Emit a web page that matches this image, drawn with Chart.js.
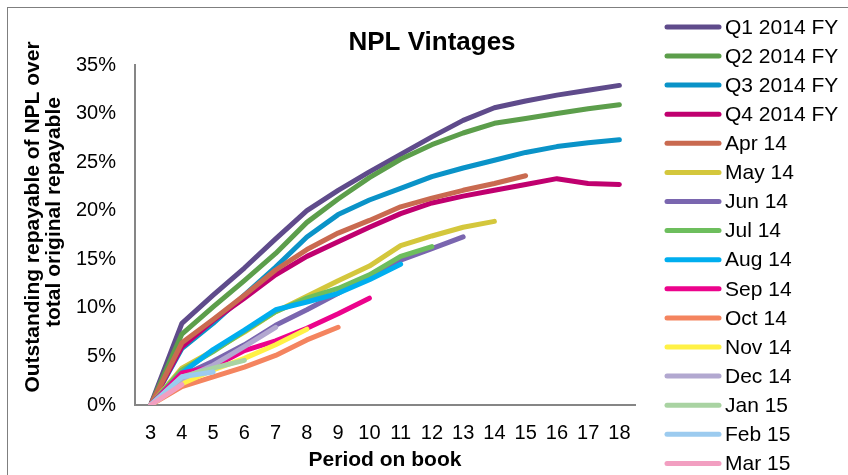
<!DOCTYPE html>
<html><head><meta charset="utf-8">
<script src="https://cdn.jsdelivr.net/npm/chart.js@4.4.1/dist/chart.umd.min.js"></script>
<style>
html,body{margin:0;padding:0;background:#fff;}
#wrap{position:relative;width:848px;height:475px;overflow:hidden;background:#fff;}
#frame{position:absolute;left:7px;top:7px;width:900px;height:600px;border-left:1px solid #7f7f7f;border-top:1px solid #7f7f7f;}
canvas{position:absolute;left:0;top:0;}
</style></head><body>
<div id="wrap"><div id="frame"></div><canvas id="c" width="848" height="475"></canvas></div>
<script>
// ---- data (percent) ----
const periods = ['3','4','5','6','7','8','9','10','11','12','13','14','15','16','17','18'];
const q1_2014_fy = [0, 8.4, 11.3, 14.1, 17.1, 20.0, 22.1, 24.0, 25.8, 27.6, 29.3, 30.6, 31.3, 31.9, 32.4, 32.9];
const q2_2014_fy = [0, 7.3, 10.1, 12.8, 15.6, 18.8, 21.2, 23.4, 25.3, 26.8, 28.0, 29.0, 29.5, 30.0, 30.5, 30.9];
const q3_2014_fy = [0, 5.8, 8.4, 11.3, 14.2, 17.3, 19.6, 21.1, 22.3, 23.5, 24.4, 25.2, 26.0, 26.6, 27.0, 27.3];
const q4_2014_fy = [0, 6.0, 8.7, 11.0, 13.4, 15.3, 16.8, 18.3, 19.7, 20.8, 21.5, 22.1, 22.7, 23.3, 22.8, 22.7];
const apr_14 = [0, 6.4, 8.8, 11.3, 13.9, 16.0, 17.7, 19.0, 20.4, 21.3, 22.1, 22.8, 23.6];
const may_14 = [0, 3.8, 5.6, 7.5, 9.6, 11.2, 12.8, 14.3, 16.4, 17.4, 18.3, 18.9];
const jun_14 = [0, 3.0, 4.5, 6.2, 8.2, 9.8, 11.5, 13.3, 14.9, 16.1, 17.3];
const jul_14 = [0, 3.6, 5.5, 7.6, 9.6, 11.0, 12.0, 13.4, 15.3, 16.3];
const aug_14 = [0, 3.3, 5.7, 7.7, 9.8, 10.6, 11.5, 12.9, 14.5];
const sep_14 = [0, 3.3, 3.9, 5.6, 6.6, 7.9, 9.4, 11.0];
const oct_14 = [0, 1.9, 2.9, 3.9, 5.1, 6.7, 8.0];
const nov_14 = [0, 2.2, 3.6, 4.8, 6.2, 7.8];
const dec_14 = [0, 2.7, 4.1, 6.0, 8.0];
const jan_15 = [0, 2.9, 3.8, 4.6];
const feb_15 = [0, 2.9, 3.4];
const mar_15 = [0, 2.1];

const seriesNames = ['Q1 2014 FY','Q2 2014 FY','Q3 2014 FY','Q4 2014 FY','Apr 14','May 14','Jun 14','Jul 14','Aug 14','Sep 14','Oct 14','Nov 14','Dec 14','Jan 15','Feb 15','Mar 15'];
const seriesValues = [q1_2014_fy,q2_2014_fy,q3_2014_fy,q4_2014_fy,apr_14,may_14,jun_14,jul_14,aug_14,sep_14,oct_14,nov_14,dec_14,jan_15,feb_15,mar_15];
const seriesColors = ['#5f4b8b','#5c9e4b','#0a93c8','#c0006f','#c96a50','#d4c73c','#7a66af','#6dbe5d','#00aeef','#ec038c','#f4845f','#fff145','#b2a8d0','#a9d3a2','#9ccbef','#f29fc1'];

const chartTitle = 'NPL Vintages';
const yTitle = ['Outstanding repayable of NPL over','total original repayable'];
const xTitle = 'Period on book';

const FONT = '"Liberation Sans", Arial, sans-serif';

const datasets = seriesNames.map((name,i)=>({
  label:name,
  data:seriesValues[i],
  borderColor:seriesColors[i],
  backgroundColor:seriesColors[i],
  borderWidth:5,
  borderCapStyle:'round',
  borderJoinStyle:'round',
  pointRadius:0,
  pointHoverRadius:0,
  tension:0,
  fill:false,
  order:seriesNames.length - i
}));

const overlay = {
  id:'overlay',
  afterDraw(chart){
    const ctx = chart.ctx;
    ctx.save();
    ctx.fillStyle = '#000';
    ctx.textAlign = 'center';
    ctx.textBaseline = 'alphabetic';
    ctx.font = 'bold 26px ' + FONT;
    ctx.fillText(chartTitle, 432, 50);
    // y title
    ctx.font = 'bold 21px ' + FONT;
    ctx.textBaseline = 'middle';
    [[33, 217], [54, 212]].forEach((p, k)=>{
      ctx.save();
      ctx.translate(p[0], p[1]);
      ctx.rotate(-Math.PI/2);
      ctx.fillText(yTitle[k], 0, 0);
      ctx.restore();
    });
    // legend
    ctx.textAlign = 'left';
    ctx.font = '21px ' + FONT;
    chart.data.datasets.forEach((ds,i)=>{
      const y = 26.9 + 29.1*i;
      ctx.strokeStyle = ds.borderColor;
      ctx.lineWidth = 5;
      ctx.lineCap = 'round';
      ctx.beginPath();
      ctx.moveTo(667, y);
      ctx.lineTo(719, y);
      ctx.stroke();
      ctx.fillStyle = '#000';
      ctx.fillText(ds.label, 725, y + 1);
    });
    ctx.restore();
  }
};

new Chart(document.getElementById('c'), {
  type:'line',
  data:{labels:periods, datasets},
  plugins:[overlay],
  options:{
    responsive:false,
    animation:false,
    devicePixelRatio:1,
    layout:{padding:{left:0,top:65,right:213,bottom:0}},
    plugins:{legend:{display:false},title:{display:false},tooltip:{enabled:false}},
    scales:{
      x:{
        offset:true,
        grid:{display:false,drawTicks:false},
        border:{display:true,color:'#868686',width:2},
        ticks:{color:'#000',font:{family:FONT,size:20},padding:16,maxRotation:0,autoSkip:false},
        title:{display:true,text:xTitle,color:'#000',font:{family:FONT,size:21,weight:'bold'},padding:{top:0,bottom:2}},
        afterFit(s){ s.height = 70; }
      },
      y:{
        min:0,max:35,
        grid:{display:false,drawTicks:false},
        border:{display:true,color:'#868686',width:2},
        ticks:{stepSize:5,color:'#000',font:{family:FONT,size:20},padding:19,callback:v=>v+'%'},
        afterFit(s){ s.width = 135; }
      }
    }
  }
});
</script>
</body></html>
